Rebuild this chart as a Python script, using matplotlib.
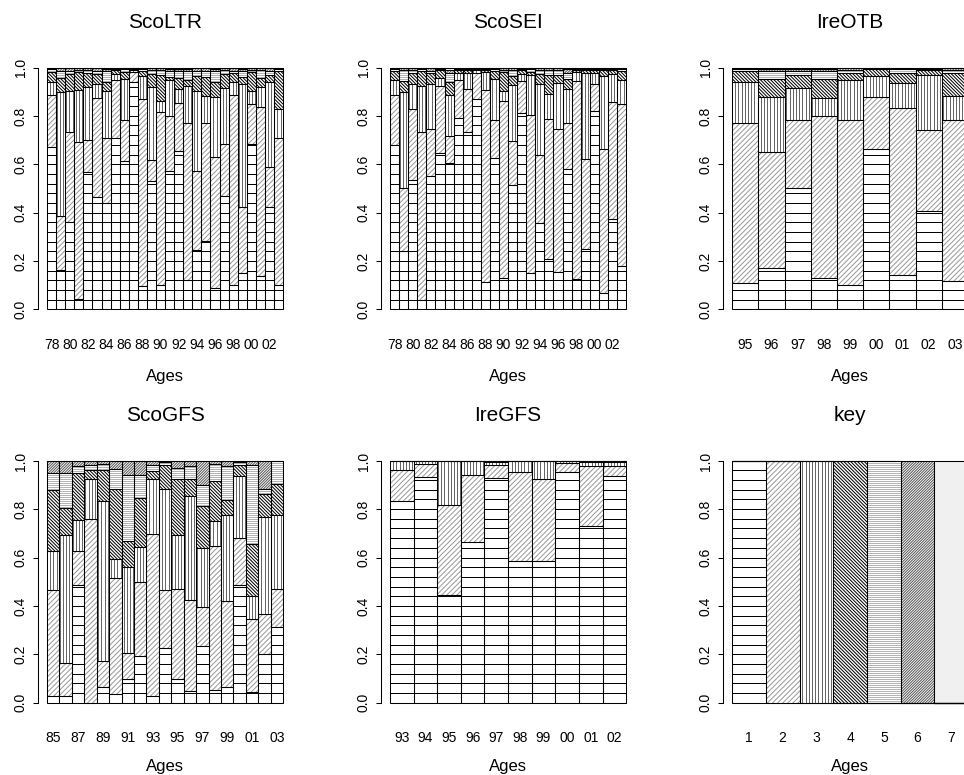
import numpy as np
import matplotlib
matplotlib.use('Agg')
import matplotlib.pyplot as plt
from matplotlib.path import Path
from matplotlib.collections import LineCollection

plt.rcParams['font.family'] = ['Liberation Sans', 'DejaVu Sans']

# cumulative tops of age groups 1..6 for each year (group 7 fills up to 1.0)
ltr_labels = ['78', '', '80', '', '82', '', '84', '', '86', '', '88', '', '90', '',
              '92', '', '94', '', '96', '', '98', '', '00', '', '02', '']
ltr_tops = [
    [0.674, 0.887, 0.942, 0.981, 0.994, 0.998],
    [0.165, 0.388, 0.898, 0.956, 0.988, 0.997],
    [0.361, 0.733, 0.905, 0.974, 0.988, 0.997],
    [0.044, 0.694, 0.908, 0.981, 0.992, 0.998],
    [0.570, 0.701, 0.921, 0.977, 0.990, 0.998],
    [0.467, 0.873, 0.932, 0.974, 0.988, 0.997],
    [0.442, 0.709, 0.902, 0.942, 0.985, 0.996],
    [0.709, 0.949, 0.974, 0.990, 0.995, 0.998],
    [0.616, 0.784, 0.953, 0.983, 0.995, 0.998],
    [0.942, 0.981, 0.990, 0.995, 0.997, 0.999],
    [0.095, 0.870, 0.967, 0.988, 0.995, 0.998],
    [0.533, 0.618, 0.919, 0.974, 0.990, 0.997],
    [0.102, 0.818, 0.861, 0.971, 0.990, 0.997],
    [0.574, 0.802, 0.949, 0.963, 0.985, 0.996],
    [0.657, 0.854, 0.912, 0.957, 0.985, 0.996],
    [0.123, 0.771, 0.926, 0.949, 0.985, 0.995],
    [0.244, 0.574, 0.905, 0.967, 0.988, 0.997],
    [0.281, 0.771, 0.884, 0.963, 0.988, 0.997],
    [0.088, 0.632, 0.877, 0.939, 0.985, 0.996],
    [0.471, 0.685, 0.915, 0.974, 0.990, 0.997],
    [0.102, 0.887, 0.939, 0.977, 0.988, 0.997],
    [0.150, 0.423, 0.932, 0.960, 0.985, 0.996],
    [0.685, 0.850, 0.905, 0.981, 0.992, 0.998],
    [0.140, 0.839, 0.919, 0.957, 0.990, 0.997],
    [0.423, 0.588, 0.942, 0.971, 0.988, 0.997],
    [0.099, 0.709, 0.829, 0.986, 0.995, 0.998],
]

sei_labels = ltr_labels
sei_tops = [
    [0.679, 0.887, 0.949, 0.986, 0.994, 0.998],
    [0.241, 0.503, 0.899, 0.945, 0.990, 0.997],
    [0.534, 0.828, 0.931, 0.979, 0.992, 0.998],
    [0.039, 0.734, 0.924, 0.986, 0.994, 0.998],
    [0.554, 0.745, 0.934, 0.977, 0.988, 0.997],
    [0.648, 0.924, 0.959, 0.990, 0.995, 0.998],
    [0.607, 0.717, 0.886, 0.941, 0.979, 0.992],
    [0.793, 0.949, 0.977, 0.990, 0.995, 0.998],
    [0.734, 0.913, 0.977, 0.990, 0.995, 0.998],
    [0.869, 0.977, 0.990, 0.995, 0.997, 0.999],
    [0.113, 0.908, 0.982, 0.990, 0.995, 0.998],
    [0.628, 0.783, 0.954, 0.986, 0.994, 0.998],
    [0.128, 0.862, 0.903, 0.982, 0.990, 0.997],
    [0.513, 0.697, 0.927, 0.966, 0.990, 0.997],
    [0.814, 0.945, 0.972, 0.990, 0.995, 0.998],
    [0.149, 0.804, 0.968, 0.982, 0.994, 0.998],
    [0.359, 0.637, 0.934, 0.972, 0.990, 0.997],
    [0.207, 0.786, 0.890, 0.968, 0.990, 0.997],
    [0.154, 0.745, 0.938, 0.968, 0.990, 0.997],
    [0.582, 0.770, 0.913, 0.952, 0.979, 0.994],
    [0.127, 0.945, 0.982, 0.992, 0.996, 0.999],
    [0.251, 0.621, 0.977, 0.990, 0.995, 0.998],
    [0.821, 0.931, 0.979, 0.992, 0.996, 0.999],
    [0.066, 0.662, 0.966, 0.990, 0.995, 0.998],
    [0.372, 0.858, 0.972, 0.990, 0.995, 0.998],
    [0.180, 0.850, 0.950, 0.985, 0.995, 0.998],
]

otb_labels = ['95', '96', '97', '98', '99', '00', '01', '02', '03']
otb_tops = [
    [0.110, 0.772, 0.942, 0.986, 0.994, 0.998],
    [0.172, 0.651, 0.879, 0.954, 0.986, 0.996],
    [0.503, 0.782, 0.914, 0.970, 0.986, 0.996],
    [0.131, 0.800, 0.876, 0.954, 0.986, 0.996],
    [0.102, 0.782, 0.949, 0.977, 0.990, 0.997],
    [0.665, 0.880, 0.966, 0.993, 0.997, 0.999],
    [0.143, 0.834, 0.937, 0.977, 0.994, 0.998],
    [0.407, 0.741, 0.968, 0.990, 0.996, 0.999],
    [0.117, 0.782, 0.883, 0.979, 0.992, 0.997],
]

gfs_labels = ['85', '', '87', '', '89', '', '91', '', '93', '', '95', '', '97', '',
              '99', '', '01', '', '03']
gfs_tops = [
    [0.028, 0.468, 0.627, 0.882, 0.952, 1.0],
    [0.028, 0.163, 0.693, 0.806, 0.952, 1.0],
    [0.486, 0.627, 0.755, 0.950, 0.978, 1.0],
    [0.000, 0.759, 0.927, 0.964, 0.985, 1.0],
    [0.066, 0.174, 0.835, 0.961, 0.989, 1.0],
    [0.036, 0.517, 0.596, 0.886, 0.968, 1.0],
    [0.098, 0.204, 0.562, 0.668, 0.943, 1.0],
    [0.193, 0.500, 0.645, 0.847, 0.941, 1.0],
    [0.028, 0.700, 0.927, 0.957, 0.982, 1.0],
    [0.225, 0.468, 0.886, 0.982, 0.995, 1.0],
    [0.098, 0.472, 0.693, 0.927, 0.971, 1.0],
    [0.050, 0.424, 0.854, 0.927, 0.979, 1.0],
    [0.234, 0.397, 0.641, 0.813, 0.899, 1.0],
    [0.052, 0.647, 0.751, 0.916, 0.989, 1.0],
    [0.066, 0.420, 0.778, 0.837, 0.979, 1.0],
    [0.486, 0.683, 0.937, 0.985, 0.995, 1.0],
    [0.045, 0.346, 0.441, 0.658, 0.982, 1.0],
    [0.200, 0.365, 0.769, 0.865, 0.886, 1.0],
    [0.314, 0.472, 0.778, 0.906, 1.0, 1.0],
]

iregfs_labels = ['93', '94', '95', '96', '97', '98', '99', '00', '01', '02']
iregfs_tops = [
    [0.833, 0.964, 1.0, 1.0, 1.0, 1.0],
    [0.934, 0.986, 1.0, 1.0, 1.0, 1.0],
    [0.445, 0.817, 1.0, 1.0, 1.0, 1.0],
    [0.665, 0.944, 1.0, 1.0, 1.0, 1.0],
    [0.931, 0.985, 0.996, 1.0, 1.0, 1.0],
    [0.585, 0.955, 1.0, 1.0, 1.0, 1.0],
    [0.585, 0.927, 1.0, 1.0, 1.0, 1.0],
    [0.955, 0.992, 1.0, 1.0, 1.0, 1.0],
    [0.730, 0.979, 0.997, 1.0, 1.0, 1.0],
    [0.937, 0.978, 0.997, 1.0, 1.0, 1.0],
]

key_labels = ['1', '2', '3', '4', '5', '6', '7']
key_tops = [
    [1, 1, 1, 1, 1, 1],
    [0, 1, 1, 1, 1, 1],
    [0, 0, 1, 1, 1, 1],
    [0, 0, 0, 1, 1, 1],
    [0, 0, 0, 0, 1, 1],
    [0, 0, 0, 0, 0, 1],
    [0, 0, 0, 0, 0, 0],
]

# shading of the 7 age groups: hatch angle, gap between lines (px), line colour
hatch_angle = [0, 45, 90, 135, 0, 45, None]
hatch_gap = [9.68, 3.6, 3.2, 2.4, 2.0, 1.9, None]
hatch_col = ['black', '#9a9a9a', '#666666', 'black', '#b4b4b4', '#585858', None]
fill_col = ['white'] * 6 + ['#f0f0f0']


def hatch_bars(ax, x, lo, hi, angle, gap, color):
    verts, codes = [], []
    for xi, a, b in zip(x, lo, hi):
        if b - a <= 0:
            continue
        verts += [(xi, a), (xi + 1, a), (xi + 1, b), (xi, b), (xi, a)]
        codes += [Path.MOVETO, Path.LINETO, Path.LINETO, Path.LINETO, Path.CLOSEPOLY]
    if not verts:
        return
    x0, x1 = ax.get_xlim()
    y0, y1 = ax.get_ylim()
    sx = ax.bbox.width / (x1 - x0)
    sy = ax.bbox.height / (y1 - y0)
    t = np.radians(angle)
    d = np.array([np.cos(t), np.sin(t)])
    nrm = np.array([-np.sin(t), np.cos(t)])
    corners = np.array([[x0 * sx, y0 * sy], [x1 * sx, y0 * sy],
                        [x0 * sx, y1 * sy], [x1 * sx, y1 * sy]])
    proj = corners @ nrm
    L = 2 * np.hypot(ax.bbox.width, ax.bbox.height)
    segs = []
    for k in range(int(np.floor(proj.min() / gap)), int(np.ceil(proj.max() / gap)) + 1):
        c = k * gap * nrm
        p, q = c - L * d, c + L * d
        segs.append([(p[0] / sx, p[1] / sy), (q[0] / sx, q[1] / sy)])
    lc = LineCollection(segs, colors=color, linewidths=0.72, zorder=2)
    ax.add_collection(lc, autolim=False)
    lc.set_clip_path(Path(verts, codes), ax.transData)


def panel(ax, title, labels, tops, label_y):
    tops = np.asarray(tops, dtype=float)
    n = len(tops)
    full = np.column_stack([np.zeros(n), tops, np.ones(n)])
    x = np.arange(n)
    ax.set_xlim(-0.04 * n, 1.04 * n)
    ax.set_ylim(-0.04, 1.04)
    for g in range(7):
        lo, hi = full[:, g], full[:, g + 1]
        ax.bar(x, hi - lo, bottom=lo, width=1, align='edge', color=fill_col[g],
               linewidth=0, zorder=1)
        if hatch_angle[g] is not None:
            hatch_bars(ax, x, lo, hi, hatch_angle[g], hatch_gap[g], hatch_col[g])
        ax.bar(x, hi - lo, bottom=lo, width=1, align='edge', fill=False,
               edgecolor='black', linewidth=0.75, zorder=3)
    for s in ['top', 'right', 'bottom']:
        ax.spines[s].set_visible(False)
    ax.spines['left'].set_bounds(0, 1)
    ax.spines['left'].set_linewidth(0.75)
    ax.set_yticks(np.arange(0, 1.01, 0.2))
    ax.set_yticklabels(['0.0', '0.2', '0.4', '0.6', '0.8', '1.0'])
    ax.tick_params(axis='y', length=3.6, width=0.75, pad=3.5, labelsize=10, labelrotation=90)
    for lab in ax.get_yticklabels():
        lab.set_va('center')
    ax.set_xticks(x + 0.5)
    ax.set_xticklabels(labels)
    ax.tick_params(axis='x', length=0, pad=13.5, labelsize=10)
    ax.set_title(title, fontsize=15, pad=21.5)
    ax.set_xlabel('Ages', fontsize=12)
    ax.xaxis.set_label_coords(0.5, label_y)


fig = plt.figure(figsize=(9.64, 7.75), dpi=100)
lefts = [0.039, 0.3948, 0.7496]
bottoms = [0.5883, 0.0808]
label_ys = [-0.193, -0.178]
w, h = 0.2645, 0.3368

panels = [
    ('ScoLTR', ltr_labels, ltr_tops),
    ('ScoSEI', sei_labels, sei_tops),
    ('IreOTB', otb_labels, otb_tops),
    ('ScoGFS', gfs_labels, gfs_tops),
    ('IreGFS', iregfs_labels, iregfs_tops),
    ('key', key_labels, key_tops),
]
for i, (title, labels, tops) in enumerate(panels):
    ax = fig.add_axes([lefts[i % 3], bottoms[i // 3], w, h])
    panel(ax, title, labels, tops, label_ys[i // 3])

fig.savefig('out.png', dpi=100, facecolor='white')
